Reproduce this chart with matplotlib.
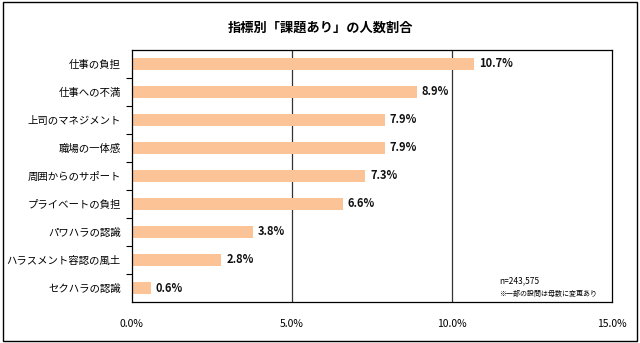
import matplotlib.pyplot as plt
from matplotlib.patches import Rectangle
from matplotlib.ticker import FixedLocator, NullFormatter

plt.rcParams['font.family'] = ['Noto Sans CJK JP', 'DejaVu Sans']

categories = ["仕事の負担", "仕事への不満", "上司のマネジメント", "職場の一体感",
              "周囲からのサポート", "プライベートの負担", "パワハラの認識",
              "ハラスメント容認の風土", "セクハラの認識"]
values = [10.7, 8.9, 7.9, 7.9, 7.3, 6.6, 3.8, 2.8, 0.6]
xticks = [0, 5, 10, 15]
xtick_labels = ["0.0%", "5.0%", "10.0%", "15.0%"]

fig = plt.figure(figsize=(6.4, 3.43), dpi=100)
fig.patches.append(Rectangle((0.004, 0.006), 0.992, 0.988, transform=fig.transFigure,
                             fill=False, edgecolor="black", linewidth=1.0))
ax = fig.add_axes([0.206, 0.1195, 0.750, 0.735])

pos = range(len(categories))
ax.barh(pos, values, height=0.43, color="#FBC396", edgecolor="none", zorder=2)
for y, v in zip(pos, values):
    ax.text(v + 0.15, y, f"{v:.1f}%", va="center", ha="left", fontsize=8,
            fontweight="bold", color="#111111")

ax.set_xlim(0, 15)
ax.set_ylim(len(categories) - 0.5, -0.5)
ax.set_xticks(xticks)
ax.set_xticklabels(xtick_labels, fontsize=7.5)
ax.tick_params(axis="x", length=0, pad=12)
for x in xticks[1:-1]:
    ax.axvline(x, color="#333333", linewidth=0.9, zorder=1)

ax.set_yticks(list(pos))
ax.set_yticklabels(categories, fontsize=7.5)
ax.tick_params(axis="y", which="major", length=0, pad=8)
ax.yaxis.set_minor_locator(FixedLocator([i + 0.5 for i in range(len(categories) - 1)]))
ax.yaxis.set_minor_formatter(NullFormatter())
ax.tick_params(axis="y", which="minor", length=4, width=0.8, direction="out")

for s in ax.spines.values():
    s.set_linewidth(0.9)

# title is centred on the whole figure, not the axes
fig.text(0.5, 0.92, "指標別「課題あり」の人数割合", ha="center", va="center",
         fontsize=9.5, fontweight="bold")
ax.text(0.765, 0.075, "n=243,575", transform=ax.transAxes, fontsize=6)
ax.text(0.765, 0.025, "※一部の設問は母数に変更あり", transform=ax.transAxes, fontsize=5)

fig.savefig("out.png", dpi=100)
